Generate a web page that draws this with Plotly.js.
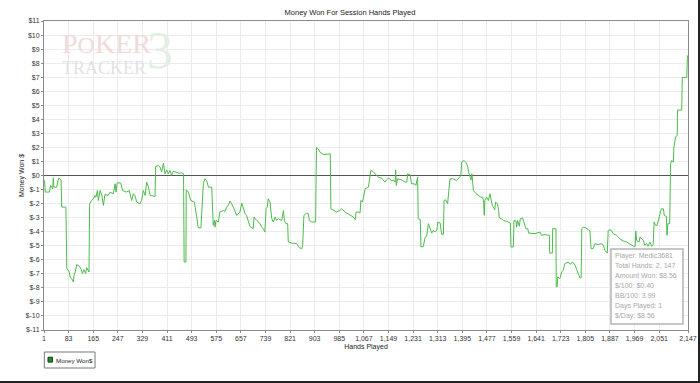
<!DOCTYPE html>
<html>
<head>
<meta charset="utf-8">
<script src="https://cdn.plot.ly/plotly-3.0.1.min.js"></script>
<style>
html,body{margin:0;padding:0;background:#fff;}
#wrap{width:700px;height:383px;box-sizing:border-box;border-right:2px solid #222;border-bottom:2px solid #222;overflow:hidden;}
#chart{width:698px;height:381px;}
</style>
</head>
<body>
<div id="wrap"><div id="chart"></div></div>
<script>
// ---- data ----
const hands = [1,3,5,19,23,30,32,34,43,50,58,60,74,77,82,85,88,93,99,101,105,110,119,125,129,134,140,143,151,153,160,165,171,174,179,182,188,194,199,204,215,221,232,238,241,245,257,263,276,285,293,299,304,310,321,326,332,338,343,349,355,371,373,382,388,393,399,404,410,415,421,426,432,438,449,460,466,468,474,475,482,490,502,510,515,524,532,537,543,549,560,565,569,571,574,582,587,599,604,610,615,621,632,643,654,660,665,671,676,687,698,701,710,721,726,732,737,741,745,748,754,760,765,771,776,782,793,799,802,807,813,815,826,843,852,860,863,867,876,882,885,893,906,909,915,921,932,943,948,955,957,965,976,987,993,1004,1021,1032,1038,1041,1048,1054,1057,1062,1066,1071,1082,1085,1090,1098,1104,1110,1115,1126,1137,1143,1148,1154,1160,1165,1171,1173,1175,1179,1193,1204,1210,1213,1221,1226,1235,1240,1246,1248,1255,1257,1265,1271,1276,1282,1287,1293,1298,1304,1310,1313,1321,1326,1332,1334,1339,1346,1350,1354,1365,1376,1384,1390,1393,1398,1401,1406,1412,1416,1421,1424,1427,1429,1432,1441,1448,1456,1463,1466,1468,1470,1476,1482,1487,1490,1495,1498,1503,1506,1512,1516,1518,1526,1532,1543,1555,1557,1565,1567,1574,1576,1579,1585,1588,1596,1602,1607,1613,1616,1637,1654,1659,1670,1685,1686,1695,1696,1707,1708,1711,1713,1720,1726,1731,1737,1748,1754,1762,1771,1776,1782,1787,1791,1793,1798,1806,1815,1820,1824,1831,1837,1848,1857,1865,1870,1878,1881,1890,1898,1909,1920,1931,1943,1954,1965,1971,1973,1976,1984,1987,1992,1998,2003,2009,2014,2020,2026,2031,2034,2039,2044,2047,2053,2058,2065,2068,2075,2077,2080,2086,2089,2093,2098,2100,2106,2111,2112,2126,2128,2143,2145,2147];
const moneyWon = [-0.3,-0.36,-1.18,-1.18,-0.71,-0.95,-0.17,-0.83,-0.83,-0.19,-0.31,-2.25,-2.25,-6.63,-6.75,-6.87,-7.22,-7.34,-7.58,-7.10,-6.87,-6.34,-6.46,-6.70,-6.98,-6.70,-6.98,-6.56,-6.87,-2.01,-1.78,-1.66,-1.42,-1.54,-1.07,-1.78,-1.07,-1.42,-2.13,-1.35,-1.42,-1.18,-1.30,-0.59,-1.18,-0.52,-0.54,-1.07,-1.18,-1.07,-1.78,-1.30,-1.42,-1.89,-2.01,-1.78,-1.07,-1.42,-0.47,-0.83,-1.42,-1.49,0.64,0.71,0.59,0.24,0.88,0.12,0.40,0.12,0.36,0.0,0.31,0.24,0.17,0.19,0.12,-6.16,-6.16,-1.02,-1.18,-1.78,-1.89,-2.96,-3.72,-3.72,-0.59,-0.24,-0.36,-0.83,-0.83,-3.55,-3.20,-3.67,-3.20,-3.31,-2.60,-2.49,-2.56,-2.25,-2.13,-1.82,-2.25,-2.84,-2.60,-1.96,-2.37,-2.72,-2.84,-3.62,-3.79,-2.96,-3.20,-3.43,-3.67,-3.79,-4.03,-2.37,-2.25,-1.66,-1.89,-3.08,-3.31,-2.96,-3.20,-3.08,-3.20,-2.49,-3.20,-3.43,-3.43,-4.73,-4.81,-4.85,-5.14,-5.21,-4.97,-2.84,-2.68,-2.72,-3.20,-3.31,-3.31,2.01,1.89,1.66,1.49,1.49,1.54,1.54,-2.37,-2.49,-2.60,-2.49,-2.37,-2.60,-2.84,-2.96,-3.14,-2.60,-2.60,-2.68,-1.78,-1.89,-1.54,-0.95,-0.83,-0.36,0.36,0.28,0.12,0.0,-0.12,-0.19,-0.47,-0.31,-0.19,-0.24,-0.40,-0.31,-0.47,0.40,-0.71,-0.24,-0.31,-0.47,-0.47,0.12,0.05,-0.59,-0.59,-0.71,-0.12,-3.08,-3.14,-5.09,-5.05,-4.40,-4.33,-3.43,-3.79,-4.10,-3.91,-4.03,-3.91,-3.31,-3.38,-4.19,-4.19,-1.78,-1.73,-2.01,-1.07,-0.24,-0.24,-0.36,-0.17,0.0,0.95,1.07,1.07,0.95,0.71,0.24,-0.12,-0.31,0.12,-0.36,-1.07,-1.30,-1.42,-1.54,-1.54,-1.89,-2.84,-1.78,-1.54,-1.78,-1.30,-1.73,-2.13,-2.25,-2.44,-1.89,-2.01,-2.49,-3.01,-3.08,-3.20,-3.27,-3.38,-5.09,-5.09,-3.20,-3.25,-3.67,-3.20,-3.62,-3.08,-3.03,-3.55,-3.79,-3.79,-4.10,-4.14,-4.03,-4.26,-4.21,-4.26,-5.52,-5.52,-3.79,-3.79,-7.93,-7.93,-7.22,-7.34,-6.87,-6.75,-6.27,-6.16,-6.32,-6.16,-6.39,-6.70,-6.98,-7.29,-7.29,-3.79,-3.67,-3.72,-3.86,-3.91,-5.21,-5.21,-4.85,-4.92,-4.85,-4.97,-5.33,-5.52,-3.91,-3.86,-4.14,-4.26,-4.50,-4.66,-4.74,-4.92,-5.04,-5.04,-3.95,-4.62,-4.74,-4.38,-4.50,-4.62,-4.97,-4.85,-5.04,-4.74,-5.04,-4.90,-3.31,-3.55,-3.55,-3.31,-2.72,-2.37,-2.37,-2.84,-2.91,-4.26,-3.43,-3.43,0.83,1.07,0.95,2.01,2.77,2.84,4.66,4.66,6.98,6.98,8.52,8.56];

const xTickVals = [1,83,165,247,329,411,493,575,657,739,821,903,985,1067,1149,1231,1313,1395,1477,1559,1641,1723,1805,1887,1969,2051,2147];
const xTickText = ["1","83","165","247","329","411","493","575","657","739","821","903","985","1,067","1,149","1,231","1,313","1,395","1,477","1,559","1,641","1,723","1,805","1,887","1,969","2,051","2,147"];
const yTickVals = [11,10,9,8,7,6,5,4,3,2,1,0,-1,-2,-3,-4,-5,-6,-7,-8,-9,-10,-11];
const yTickText = ["$11","$10","$9","$8","$7","$6","$5","$4","$3","$2","$1","$0","$-1","$-2","$-3","$-4","$-5","$-6","$-7","$-8","$-9","$-10","$-11"];

const seriesName = "Money Won$";
const chartTitle = "Money Won For Session Hands Played";
const xTitle = "Hands Played";
const yTitle = "Money Won $";
const statsLines = ["Player: Medic3681","Total Hands: 2, 147","Amount Won: $8.56","$/100: $0.40","BB/100: 3.99","Days Played: 1","$/Day: $8.56"];

// ---- chart ----
const FONT = '"Liberation Sans", Arial, sans-serif';
const LINE_COLOR = '#4cbc4c';
const traces = [
  {x: hands, y: moneyWon, type: 'scatter', mode: 'lines', name: seriesName,
   line: {color: LINE_COLOR, width: 1}, showlegend: false, hoverinfo: 'x+y'}
];

const statsY0 = 0.2405, statsDy = 0.03236;
const annotations = [
  // watermark logo
  {text: '<span style="font-size:28px">P</span><span style="font-size:24px">O</span><span style="font-size:28px">KER</span><br><span style="font-size:18px;color:#e2e2e2">TRACKER</span>',
   xref: 'paper', yref: 'paper', x: 0.025, y: 0.895, xanchor: 'left', yanchor: 'middle', align: 'left', showarrow: false,
   font: {family: '"Liberation Serif", serif', size: 16, color: '#f1dada'}},
  {text: '3', xref: 'paper', yref: 'paper', x: 0.1795, y: 0.903, xanchor: 'center', yanchor: 'middle', showarrow: false,
   font: {family: '"Liberation Serif", serif', size: 52, color: '#e2efe2'}},
  // legend text
  {text: seriesName, xref: 'paper', yref: 'paper', x: 0.0148, y: -0.0971, xanchor: 'left', yanchor: 'middle', showarrow: false,
   font: {family: FONT, size: 6.2, color: '#222'}}
];
statsLines.forEach((t, i) => {
  annotations.push({text: t, xref: 'paper', yref: 'paper', x: 0.8843, y: statsY0 - i * statsDy, xanchor: 'left', yanchor: 'middle', showarrow: false, font: {family: FONT, size: 7, color: '#a8a8a8'}});
});

const layout = {
  width: 698, height: 381,
  margin: {l: 44, r: 10, t: 21, b: 51, pad: 0},
  paper_bgcolor: '#fff', plot_bgcolor: '#fff',
  font: {family: FONT, size: 7, color: '#222'},
  title: {text: chartTitle, font: {family: FONT, size: 7.5, color: '#222'}, xref: 'container', yref: 'container', x: 0.5014, y: 0.9685, xanchor: 'center', yanchor: 'middle'},
  xaxis: {range: [1, 2147], tickmode: 'array', tickvals: xTickVals, ticktext: xTickText,
          showgrid: true, gridcolor: '#ececec', gridwidth: 1, zeroline: false,
          showline: true, linecolor: '#8a8a8a', linewidth: 1, mirror: true,
          ticks: 'outside', ticklen: 2, tickcolor: '#8a8a8a', tickfont: {size: 7, color: '#333'},
          title: {text: xTitle, font: {size: 7, color: '#222'}, standoff: 2}, automargin: false, fixedrange: true},
  yaxis: {range: [-11, 11], tickmode: 'array', tickvals: yTickVals, ticktext: yTickText,
          showgrid: true, gridcolor: '#ececec', gridwidth: 1,
          zeroline: true, zerolinecolor: '#555', zerolinewidth: 1,
          showline: true, linecolor: '#8a8a8a', linewidth: 1, mirror: true,
          ticks: 'outside', ticklen: 2, tickcolor: '#8a8a8a', tickfont: {size: 7, color: '#333'},
          title: {text: yTitle, font: {size: 7, color: '#222'}, standoff: 0}, automargin: false, fixedrange: true},
  showlegend: false,
  shapes: [
    // stats box
    {type: 'rect', xref: 'paper', yref: 'paper', x0: 0.8804, x1: 0.9922, y0: 0.0194, y1: 0.2621,
     fillcolor: '#fff', line: {color: '#b4b4b4', width: 1.5}, layer: 'above'},
    // legend box and swatch
    {type: 'rect', xref: 'paper', yref: 'paper', x0: 0.0005, x1: 0.0792, y0: -0.1230, y1: -0.0712,
     fillcolor: '#fff', line: {color: '#777', width: 1}},
    {type: 'rect', xref: 'paper', yref: 'paper', x0: 0.0062, x1: 0.0132, y0: -0.1040, y1: -0.0880,
     fillcolor: '#22882a', line: {color: '#124a14', width: 1}}
  ],
  annotations: annotations
};

Plotly.newPlot('chart', traces, layout, {displayModeBar: false, staticPlot: true});
</script>
</body>
</html>
